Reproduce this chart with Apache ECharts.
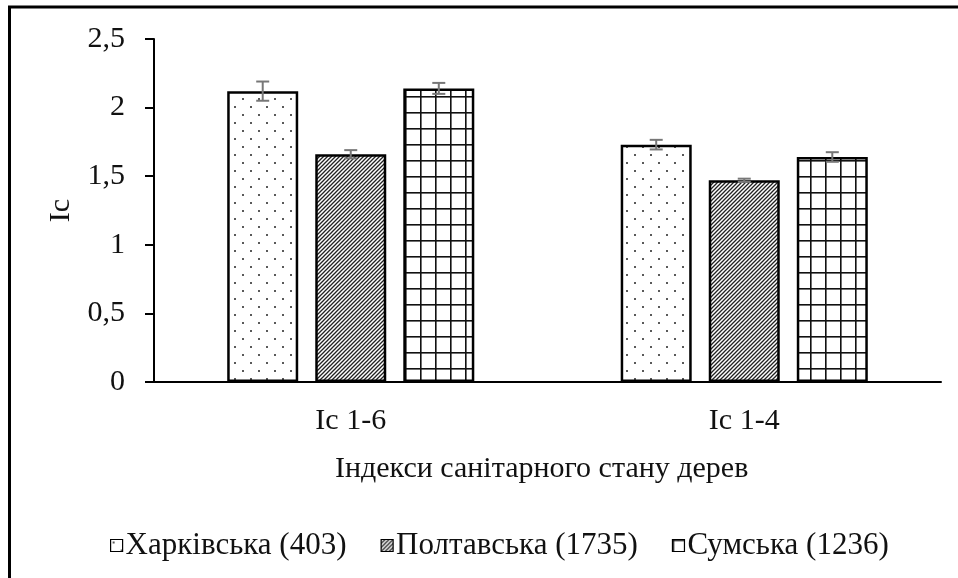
<!DOCTYPE html>
<html>
<head>
<meta charset="utf-8">
<script src="https://cdn.jsdelivr.net/npm/echarts@6/dist/echarts.min.js"></script>
<style>
  html, body { margin: 0; padding: 0; background: #fff; }
  #chart { width: 958px; height: 578px; }
</style>
</head>
<body>
<div id="chart"></div>
<script>
// категорії та серії
const categories = ['Ic 1-6', 'Ic 1-4']
const regionNames = ['Харківська (403)', 'Полтавська (1735)', 'Сумська (1236)']
const kharkivValues = [2.12, 1.73]
const poltavaValues = [1.66, 1.47]
const sumyValues = [2.14, 1.64]
// похибки (±)
const kharkivErrors = [0.07, 0.035]
const poltavaErrors = [0.03, 0.012]
const sumyErrors = [0.04, 0.035]

const FONT = '"Liberation Serif", "Times New Roman", serif'
const TEXT = '#111'
const FS = 30
const BAR_WIDTH = 71
const BAR_GAP = 0.24

// візерунки заливки
const makeDots = () => {
  const c = document.createElement('canvas')
  c.width = 16; c.height = 16
  const ctx = c.getContext('2d')
  ctx.fillStyle = '#fff'
  ctx.fillRect(0, 0, 16, 16)
  ctx.fillStyle = '#222'
  ctx.beginPath(); ctx.arc(3, 3, 1.0, 0, Math.PI * 2); ctx.fill()
  ctx.beginPath(); ctx.arc(11, 11, 1.0, 0, Math.PI * 2); ctx.fill()
  return c
}
const makeHatch = () => {
  const s = 4
  const c = document.createElement('canvas')
  c.width = s; c.height = s
  const ctx = c.getContext('2d')
  ctx.fillStyle = '#fff'
  ctx.fillRect(0, 0, s, s)
  ctx.strokeStyle = '#222'
  ctx.lineWidth = 1.3
  ctx.beginPath()
  ctx.moveTo(-1, s + 1); ctx.lineTo(s + 1, -1)
  ctx.moveTo(-1, 1); ctx.lineTo(1, -1)
  ctx.moveTo(s - 1, s + 1); ctx.lineTo(s + 1, s - 1)
  ctx.stroke()
  return c
}
const makeGrid = () => {
  const c = document.createElement('canvas')
  c.width = 15; c.height = 16
  const ctx = c.getContext('2d')
  ctx.fillStyle = '#fff'
  ctx.fillRect(0, 0, 15, 16)
  ctx.fillStyle = '#111'
  ctx.fillRect(0, 0, 1.6, 16)
  ctx.fillRect(0, 0, 15, 1.6)
  return c
}

const patterns = [makeDots(), makeHatch(), makeGrid()]
const valueSets = [kharkivValues, poltavaValues, sumyValues]
const errorSets = [kharkivErrors, poltavaErrors, sumyErrors]

const barSeries = regionNames.map((name, i) => ({
  name: name,
  type: 'bar',
  barWidth: BAR_WIDTH,
  barGap: (BAR_GAP * 100) + '%',
  data: valueSets[i],
  itemStyle: {
    color: { image: patterns[i], repeat: 'repeat' },
    borderColor: '#000',
    borderWidth: 2.5
  },
  emphasis: { disabled: true }
}))

// планки похибок
const errorSeries = regionNames.map((name, i) => ({
  name: name + ' err',
  type: 'custom',
  z: 5,
  data: valueSets[i].map((v, k) => [k, v, errorSets[i][k]]),
  renderItem: (params, api) => {
    const offset = (i - 1) * BAR_WIDTH * (1 + BAR_GAP)
    const hi = api.coord([api.value(0), api.value(1) + api.value(2)])
    const lo = api.coord([api.value(0), api.value(1) - api.value(2)])
    const x = hi[0] + offset
    const cap = 6.5
    const style = { stroke: '#777', lineWidth: 2, fill: null }
    return {
      type: 'group',
      children: [
        { type: 'line', shape: { x1: x, y1: hi[1], x2: x, y2: lo[1] }, style },
        { type: 'line', shape: { x1: x - cap, y1: hi[1], x2: x + cap, y2: hi[1] }, style },
        { type: 'line', shape: { x1: x - cap, y1: lo[1], x2: x + cap, y2: lo[1] }, style }
      ]
    }
  }
}))

const chart = echarts.init(document.getElementById('chart'))
chart.setOption({
  animation: false,
  textStyle: { fontFamily: FONT, color: TEXT },
  title: {
    text: 'Індекси санітарного стану дерев',
    left: 330,
    top: 449,
    textStyle: { fontFamily: FONT, fontSize: FS, fontWeight: 'normal', color: TEXT }
  },
  legend: {
    data: regionNames,
    top: 525,
    left: 105,
    icon: 'rect',
    itemWidth: 12,
    itemHeight: 12,
    itemGap: 34,
    itemStyle: { borderColor: '#000', borderWidth: 1.2 },
    textStyle: { fontFamily: FONT, fontSize: 31, color: TEXT, padding: [0, 0, 0, -2] }
  },
  grid: {
    left: 154,
    right: 17,
    top: 39,
    bottom: 196,
    outerBoundsMode: 'none'
  },
  xAxis: {
    type: 'category',
    data: categories,
    axisLine: { lineStyle: { color: '#000', width: 2 } },
    axisTick: { show: false },
    axisLabel: { fontFamily: FONT, fontSize: FS, color: TEXT, margin: 24 }
  },
  yAxis: {
    type: 'value',
    min: 0,
    max: 2.5,
    interval: 0.5,
    name: 'Ic',
    nameLocation: 'middle',
    nameGap: 78,
    nameTextStyle: { fontFamily: FONT, fontSize: FS, color: TEXT },
    axisLine: { show: true, lineStyle: { color: '#000', width: 2 } },
    axisTick: { show: true, length: 9, lineStyle: { color: '#000', width: 2 } },
    splitLine: { show: false },
    axisLabel: {
      fontFamily: FONT,
      fontSize: FS,
      color: TEXT,
      margin: 29,
      formatter: v => String(v).replace('.', ',')
    }
  },
  graphic: [
    { type: 'line', shape: { x1: 9.5, y1: 7, x2: 9.5, y2: 578 }, style: { stroke: '#000', lineWidth: 3 } },
    { type: 'line', shape: { x1: 8, y1: 7, x2: 958, y2: 7 }, style: { stroke: '#000', lineWidth: 3 } }
  ],
  series: [...barSeries, ...errorSeries]
})
</script>
</body>
</html>
